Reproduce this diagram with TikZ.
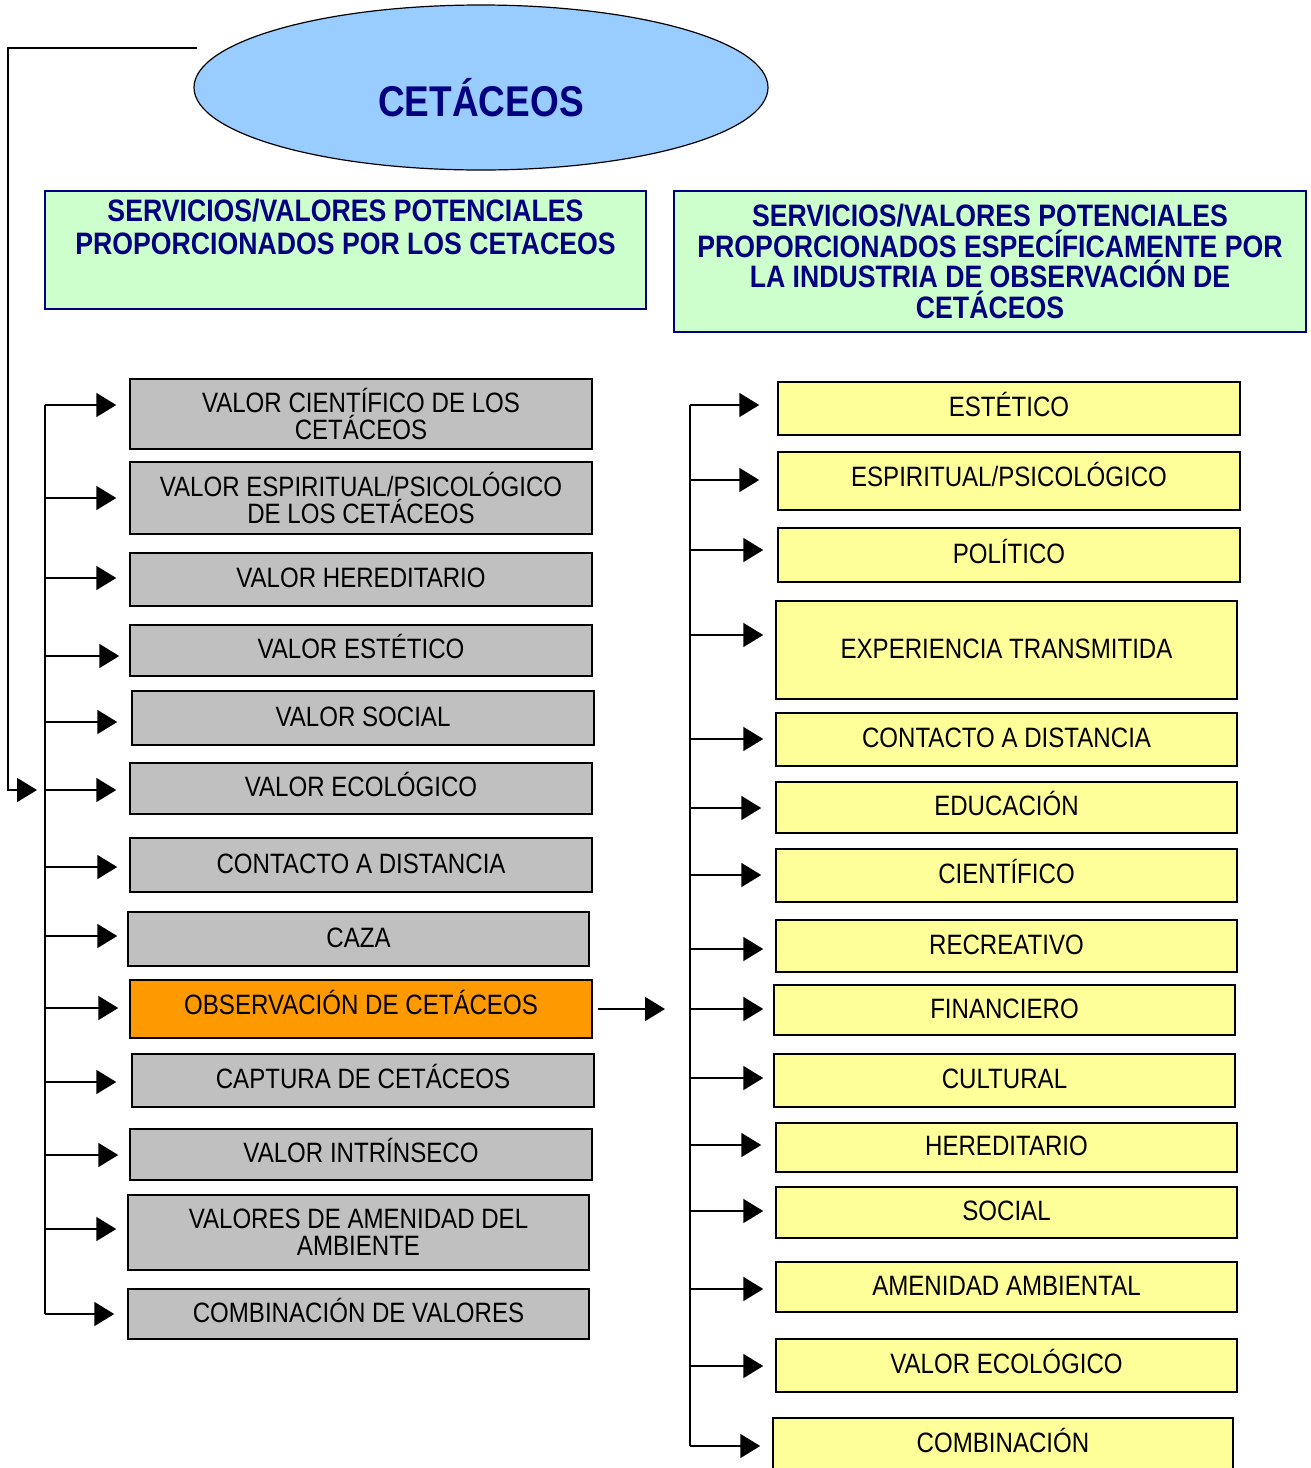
\documentclass[tikz,border=0pt]{standalone}
\usepackage{fontspec}
\setmainfont{Liberation Sans}[FakeStretch=0.86]
\usepackage{tikz}
\usetikzlibrary{arrows.meta,shapes.geometric}

\definecolor{navyblue}{RGB}{0,0,128}
\definecolor{skyblue}{HTML}{99CCFF}
\definecolor{boxgreen}{HTML}{CCFFCC}
\definecolor{boxgray}{HTML}{C0C0C0}
\definecolor{boxyellow}{HTML}{FFFF99}
\definecolor{boxorange}{HTML}{FF9900}

\begin{document}
\begin{tikzpicture}[x=1pt,y=-1pt,
        gbox/.style={draw,line width=1.5pt,fill=boxgray,inner sep=0pt,align=center,
            font=\fontsize{28}{27}\selectfont,minimum width=462pt},
        ybox/.style={gbox,fill=boxyellow},
        oneline/.style={text height=20pt,text depth=4pt},
        hbox/.style={draw=navyblue,line width=1.5pt,fill=boxgreen,inner sep=0pt,align=center,
            text=navyblue,font=\bfseries\fontsize{31}{33}\selectfont},
        arr/.style={line width=1.8pt,-{Triangle[length=20pt,width=24pt]}}]
    \useasboundingbox (0,0) rectangle (1310,1468);

    % Title
    \node[ellipse,draw,line width=1.2pt,fill=skyblue,minimum width=574pt,minimum height=165pt,
        inner sep=0pt,text=navyblue,font=\bfseries\fontsize{43}{43}\selectfont]
        (cet) at (481,87.5) {\rule{0pt}{58pt}CETÁCEOS};

    % Headers
    \node[hbox,minimum width=601pt,minimum height=118pt] (hdL) at (345.5,250)
        {SERVICIOS/VALORES POTENCIALES\\PROPORCIONADOS POR LOS CETACEOS\rule[-46pt]{0pt}{46pt}};
    \node[hbox,minimum width=632pt,minimum height=141pt,font=\bfseries\fontsize{31}{30.5}\selectfont]
        (hdR) at (990,261.5)
        {SERVICIOS/VALORES POTENCIALES\\PROPORCIONADOS ESPECÍFICAMENTE POR\\LA INDUSTRIA DE OBSERVACIÓN DE\\CETÁCEOS};

    % Left column
    \node[gbox,minimum height=70pt] (cien) at (361,414) {VALOR CIENTÍFICO DE LOS\\CETÁCEOS};
    \node[gbox,minimum height=72pt] (espi) at (361,498) {VALOR ESPIRITUAL/PSICOLÓGICO\\DE LOS CETÁCEOS};
    \node[gbox,oneline,minimum height=53pt] (here) at (361,579.5) {VALOR HEREDITARIO};
    \node[gbox,oneline,minimum height=51pt] (este) at (361,650.5) {VALOR ESTÉTICO};
    \node[gbox,oneline,minimum height=54pt] (soci) at (363,718) {VALOR SOCIAL};
    \node[gbox,oneline,minimum height=51pt] (ecol) at (361,788.5) {VALOR ECOLÓGICO};
    \node[gbox,oneline,minimum height=54pt] (cont) at (361,865) {CONTACTO A DISTANCIA};
    \node[gbox,oneline,minimum height=54pt,minimum width=461pt] (caza) at (358.5,939) {CAZA};
    \node[gbox,oneline,minimum height=58pt,fill=boxorange,text depth=10pt] (obse) at (361,1009) {OBSERVACIÓN DE CETÁCEOS};
    \node[gbox,oneline,minimum height=53pt] (capt) at (363,1080.5) {CAPTURA DE CETÁCEOS};
    \node[gbox,oneline,minimum height=51pt] (intr) at (361,1154.5) {VALOR INTRÍNSECO};
    \node[gbox,minimum height=75pt,minimum width=461pt] (amen) at (358.5,1232.5) {VALORES DE AMENIDAD DEL\\AMBIENTE};
    \node[gbox,oneline,minimum height=50pt,minimum width=461pt] (comb) at (358.5,1314) {COMBINACIÓN DE VALORES};

    % Right column
    \node[ybox,oneline,minimum height=53pt] (este2) at (1009,408.5) {ESTÉTICO};
    \node[ybox,oneline,minimum height=58pt,text depth=10pt] (espi2) at (1009,481) {ESPIRITUAL/PSICOLÓGICO};
    \node[ybox,oneline,minimum height=54pt] (poli) at (1009,555) {POLÍTICO};
    \node[ybox,oneline,minimum height=98pt,minimum width=461pt] (expe) at (1006.5,650) {EXPERIENCIA TRANSMITIDA};
    \node[ybox,oneline,minimum height=53pt,minimum width=461pt] (cont2) at (1006.5,739.5) {CONTACTO A DISTANCIA};
    \node[ybox,oneline,minimum height=51pt,minimum width=461pt] (educ) at (1006.5,807.5) {EDUCACIÓN};
    \node[ybox,oneline,minimum height=53pt,minimum width=461pt] (cien2) at (1006.5,875.5) {CIENTÍFICO};
    \node[ybox,oneline,minimum height=52pt,minimum width=461pt] (recr) at (1006.5,946) {RECREATIVO};
    \node[ybox,oneline,minimum height=50pt,minimum width=461pt] (fina) at (1004.5,1010) {FINANCIERO};
    \node[ybox,oneline,minimum height=53pt,minimum width=461pt] (cult) at (1004.5,1080.5) {CULTURAL};
    \node[ybox,oneline,minimum height=49pt,minimum width=461pt] (here2) at (1006.5,1147.5) {HEREDITARIO};
    \node[ybox,oneline,minimum height=51pt,minimum width=461pt] (soci2) at (1006.5,1212.5) {SOCIAL};
    \node[ybox,oneline,minimum height=50pt,minimum width=461pt] (amen2) at (1006.5,1287) {AMENIDAD AMBIENTAL};
    \node[ybox,oneline,minimum height=53pt,minimum width=461pt] (ecol2) at (1006.5,1365.5) {VALOR ECOLÓGICO};
    \node[ybox,oneline,minimum height=52pt,minimum width=460pt] (comb2) at (1003,1444) {COMBINACIÓN};

    % Left spine
    \coordinate (l1) at (45,405);
    \coordinate (l2) at (45,498);
    \coordinate (l3) at (45,578);
    \coordinate (l4) at (45,656);
    \coordinate (l5) at (45,722);
    \coordinate (l6) at (45,790);
    \coordinate (l7) at (45,867);
    \coordinate (l8) at (45,936);
    \coordinate (l9) at (45,1008);
    \coordinate (l10) at (45,1082);
    \coordinate (l11) at (45,1155);
    \coordinate (l12) at (45,1229);
    \coordinate (l13) at (45,1314);
    \draw[line width=1.8pt] (l1) -- (l13);

    % Right spine
    \coordinate (r1) at (690,405);
    \coordinate (r2) at (690,480);
    \coordinate (r3) at (690,550);
    \coordinate (r4) at (690,635);
    \coordinate (r5) at (690,739);
    \coordinate (r6) at (690,808);
    \coordinate (r7) at (690,875);
    \coordinate (r8) at (690,949);
    \coordinate (r9) at (690,1009);
    \coordinate (r10) at (690,1078);
    \coordinate (r11) at (690,1145);
    \coordinate (r12) at (690,1211);
    \coordinate (r13) at (690,1289);
    \coordinate (r14) at (690,1366);
    \coordinate (r15) at (690,1446);
    \draw[line width=1.8pt] (r1) -- (r15);

    % From the title down to the left spine
    \coordinate (top) at (197,48);
    \draw[arr,shorten >=8pt] (top) -- ++(-189,0) |- (l6);

    % Left arrows
    \draw[arr,shorten >=13pt] (l1) -- (l1 -| cien.west);
    \draw[arr,shorten >=13pt] (l2) -- (l2 -| espi.west);
    \draw[arr,shorten >=13pt] (l3) -- (l3 -| here.west);
    \draw[arr,shorten >=10pt] (l4) -- (l4 -| este.west);
    \draw[arr,shorten >=14pt] (l5) -- (l5 -| soci.west);
    \draw[arr,shorten >=13pt] (l6) -- (l6 -| ecol.west);
    \draw[arr,shorten >=12pt] (l7) -- (l7 -| cont.west);
    \draw[arr,shorten >=10pt] (l8) -- (l8 -| caza.west);
    \draw[arr,shorten >=11pt] (l9) -- (l9 -| obse.west);
    \draw[arr,shorten >=15pt] (l10) -- (l10 -| capt.west);
    \draw[arr,shorten >=11pt] (l11) -- (l11 -| intr.west);
    \draw[arr,shorten >=11pt] (l12) -- (l12 -| amen.west);
    \draw[arr,shorten >=13pt] (l13) -- (l13 -| comb.west);

    % Observation to the right column
    \draw[arr,shorten <=5pt,shorten >=25pt] (obse.east) -- (r9);

    % Right arrows
    \draw[arr,shorten >=18pt] (r1) -- (r1 -| este2.west);
    \draw[arr,shorten >=18pt] (r2) -- (r2 -| espi2.west);
    \draw[arr,shorten >=14pt] (r3) -- (r3 -| poli.west);
    \draw[arr,shorten >=12pt] (r4) -- (r4 -| expe.west);
    \draw[arr,shorten >=12pt] (r5) -- (r5 -| cont2.west);
    \draw[arr,shorten >=14pt] (r6) -- (r6 -| educ.west);
    \draw[arr,shorten >=14pt] (r7) -- (r7 -| cien2.west);
    \draw[arr,shorten >=12pt] (r8) -- (r8 -| recr.west);
    \draw[arr,shorten >=10pt] (r9) -- (r9 -| fina.west);
    \draw[arr,shorten >=10pt] (r10) -- (r10 -| cult.west);
    \draw[arr,shorten >=14pt] (r11) -- (r11 -| here2.west);
    \draw[arr,shorten >=12pt] (r12) -- (r12 -| soci2.west);
    \draw[arr,shorten >=12pt] (r13) -- (r13 -| amen2.west);
    \draw[arr,shorten >=12pt] (r14) -- (r14 -| ecol2.west);
    \draw[arr,shorten >=12pt] (r15) -- (r15 -| comb2.west);
\end{tikzpicture}
\end{document}
